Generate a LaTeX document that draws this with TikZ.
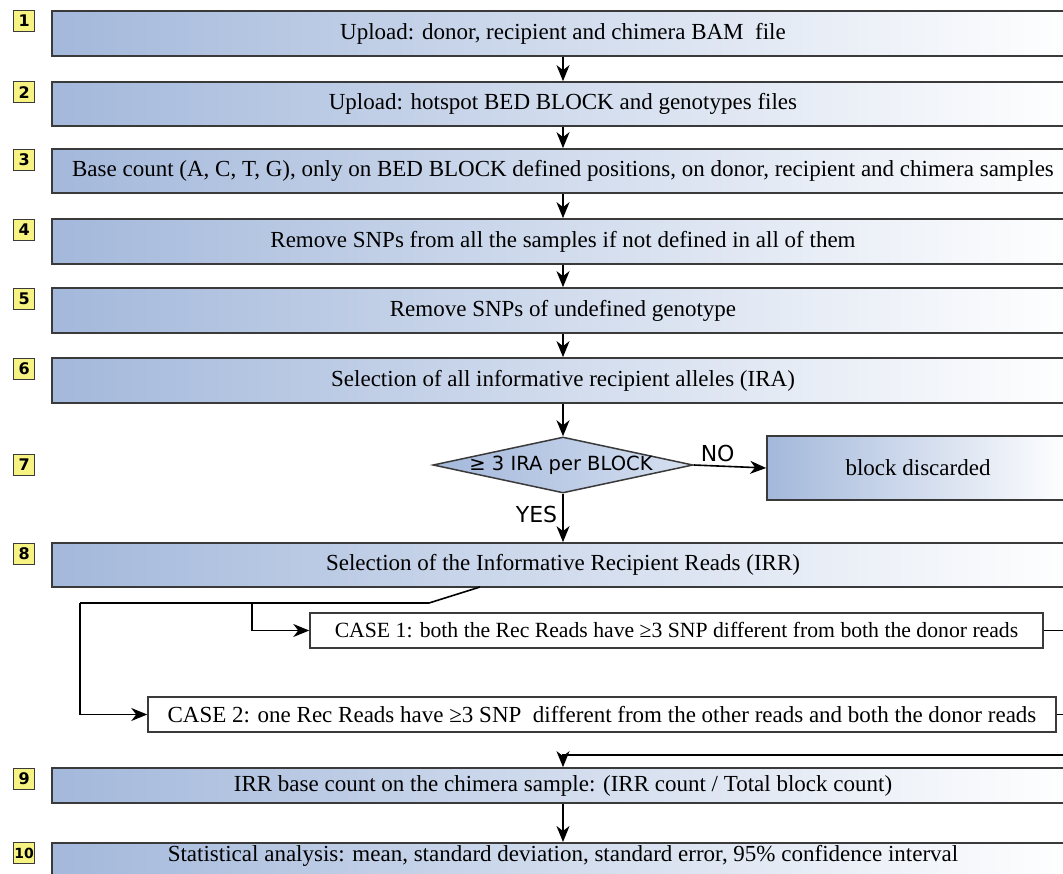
\documentclass[tikz,border=0pt]{standalone}
\usepackage{fontspec}
\setmainfont{Liberation Serif}
\newfontfamily\diafont{DejaVu Sans}
\newfontfamily\labfont{DejaVu Sans}
\usetikzlibrary{shapes.geometric,arrows.meta,calc}
\definecolor{stepblue}{HTML}{A3B8DB}
\definecolor{stepmid}{HTML}{C4D2EA}
\definecolor{labyellow}{HTML}{F7F383}
\definecolor{edgegray}{HTML}{3A3A3A}
\begin{document}
\begin{tikzpicture}[x=1pt,y=-1pt,
  stepbox/.style={draw=edgegray, line width=1.7pt, left color=stepblue, middle color=stepmid, right color=white,
    minimum width=1022pt, inner sep=0pt, font=\fontsize{23}{27}\selectfont},
  casebox/.style={draw=edgegray, line width=1.5pt, fill=white, inner sep=0pt, minimum height=35pt,
    font=\fontsize{23}{27}\selectfont},
  labbox/.style={draw=edgegray, line width=1.2pt, fill=labyellow, inner sep=0pt, minimum width=21pt,
    minimum height=21pt, anchor=north west, font=\labfont\bfseries\fontsize{16}{16}\selectfont},
  decision/.style={diamond, aspect=4.6, draw=edgegray, line width=1.5pt, left color=stepblue, right color=stepmid!70!white,
    inner sep=0pt, minimum width=260pt, minimum height=56pt},
  diatext/.style={font=\diafont\fontsize{19.5}{22}\selectfont, inner sep=0pt},
  arr/.style={draw=black, line width=1.6pt, -{Stealth[length=16pt,width=13pt,inset=5pt]}},
  conn/.style={draw=black, line width=1.6pt},
  sanslab/.style={font=\diafont\fontsize{22}{24}\selectfont, inner sep=0pt}
]
\clip (0,0) rectangle (1063,873);
\fill[white] (0,0) rectangle (1063,873);

% main step boxes
\node[stepbox, minimum height=45pt] (b1) at (563,33.5) {Upload: donor, recipient and chimera BAM~ file};
\node[stepbox, minimum height=44pt] (b2) at (563,104) {Upload: hotspot BED BLOCK and genotypes files};
\node[stepbox, minimum height=44pt] (b3) at (563,171) {Base count (A, C, T, G), only on BED BLOCK defined positions, on donor, recipient and chimera samples};
\node[stepbox, minimum height=45pt] (b4) at (563,241.5) {Remove SNPs from all the samples if not defined in all of them};
\node[stepbox, minimum height=45pt] (b5) at (563,310.5) {Remove SNPs of undefined genotype};
\node[stepbox, minimum height=45pt] (b6) at (563,380.5) {Selection of all informative recipient alleles (IRA)};
\node[decision] (d7) at (563,465) {};
\node[diatext] (d7t) at (561,465) {≥ 3 IRA per BLOCK};
\node[stepbox, minimum width=302pt, minimum height=64pt] (disc) at (918,468) {block discarded};
\node[stepbox, minimum height=44pt] (b8) at (563,565) {Selection of the Informative Recipient Reads (IRR)};
\node[casebox, minimum width=733pt, font=\fontsize{21.7}{26}\selectfont] (c1) at (676.5,630.5) {CASE 1: both the Rec Reads have ≥3 SNP different from both the donor reads};
\node[casebox, minimum width=908pt] (c2) at (602,714.5) {CASE 2: one Rec Reads have ≥3 SNP~ different from the other reads and both the donor reads};
\node[stepbox, minimum height=35pt] (b9) at (563,785.5) {IRR base count on the chimera sample: (IRR count / Total block count)};
\node[stepbox, anchor=north, text height=19pt, text depth=17pt] (b10) at (563,842) {Statistical analysis: mean, standard deviation, standard error, 95\% confidence interval};

% step labels
\node[labbox] (l1) at (13,10) {1};
\node[labbox] (l2) at (13,81) {2};
\node[labbox] (l3) at (13,149) {3};
\node[labbox] (l4) at (13,219) {4};
\node[labbox] (l5) at (13,288) {5};
\node[labbox] (l6) at (13,358) {6};
\node[labbox] (l7) at (13,454) {7};
\node[labbox] (l8) at (13,543) {8};
\node[labbox] (l9) at (13,768) {9};
\node[labbox, font=\labfont\bfseries\fontsize{14}{14}\selectfont] (l10) at (13,842) {10};

% main flow
\draw[arr] (b1) -- (b2);
\draw[arr] (b2) -- (b3);
\draw[arr] (b3) -- (b4);
\draw[arr] (b4) -- (b5);
\draw[arr] (b5) -- (b6);
\draw[arr] (b6) -- (d7);
\draw[arr] (d7.east) -- node[sanslab, above=3pt, pos=0.33] (no) {NO} (disc.west);
\draw[arr] (d7.south) -- node[sanslab, left=5pt, pos=0.42] (yes) {YES} (b8.north);

% branching to the two cases
\coordinate (t8) at (480,587);
\coordinate (j8) at (429,603);
\coordinate (k1) at (252,603);
\coordinate (k2) at (80,603);
\draw[conn] (t8) -- (j8) -- (k2);
\draw[arr] (k1) |- (c1.west);
\draw[arr] (k2) |- (c2.west);

% merge on the right
\coordinate (rj) at (1090,755);
\draw[conn] (c1.east) -- (c1.east -| rj);
\draw[conn] (c2.east) -- (c2.east -| rj);
\draw[conn] (c1.east -| rj) -- (rj);
\draw[arr] (rj) -- (b9.north |- rj) -- (b9.north);
\draw[arr] (b9) -- (b10);
\end{tikzpicture}
\end{document}
